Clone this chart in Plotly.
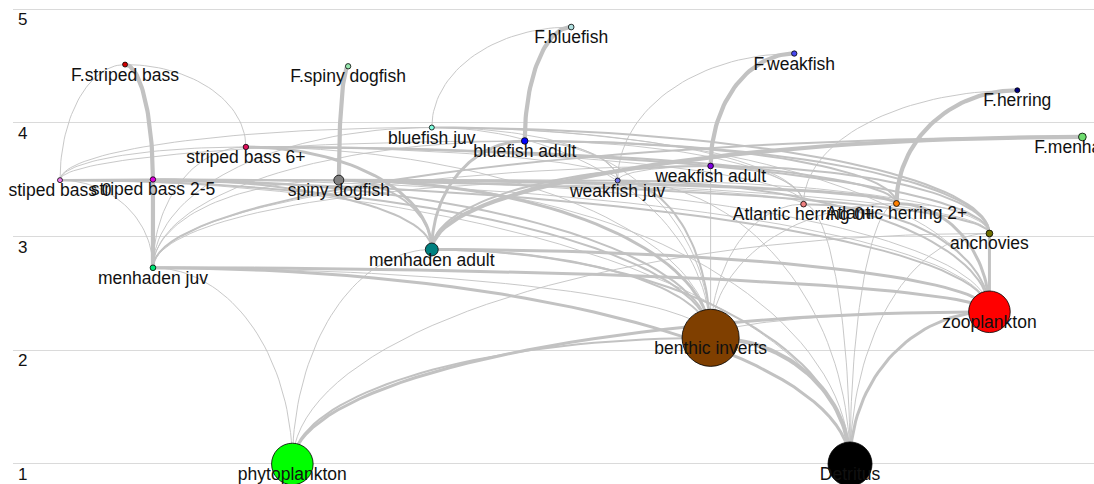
import numpy as np
import plotly.graph_objects as go

# ---------------- data ----------------
groups = [
    "phytoplankton", "Detritus",
    "menhaden juv", "menhaden adult", "benthic inverts", "zooplankton",
    "stiped bass 0", "striped bass 2-5", "striped bass 6+", "spiny dogfish",
    "bluefish juv", "bluefish adult", "weakfish juv", "weakfish adult",
    "Atlantic herring 0+", "Atlantic herring 2+", "anchovies", "F.menhaden",
    "F.striped bass", "F.spiny dogfish", "F.bluefish", "F.weakfish", "F.herring",
]
trophic_level = [
    1.00, 1.00,
    2.726, 2.887, 2.110, 2.339,
    3.497, 3.503, 3.789, 3.497,
    3.960, 3.842, 3.494, 3.622,
    3.286, 3.292, 3.028, 3.877,
    4.514, 4.499, 4.844, 4.611, 4.288,
]
biomass = [
    15.0, 17.0,
    0.03, 0.85, 30.0, 15.0,
    0.01, 0.02, 0.02, 0.38,
    0.01, 0.07, 0.01, 0.03,
    0.03, 0.04, 0.08, 0.15,
    0.01, 0.02, 0.03, 0.02, 0.01,
]

# predator-prey (and fleet-catch) links: prey, predator, flow class
link_prey = [
    "stiped bass 0", "striped bass 2-5", "striped bass 6+", "spiny dogfish",
    "bluefish juv", "bluefish adult", "weakfish juv", "weakfish adult",
    "Atlantic herring 0+", "Atlantic herring 2+", "menhaden adult", "menhaden juv",
    "phytoplankton", "zooplankton", "Detritus", "benthic inverts",
    "phytoplankton", "zooplankton", "Detritus", "benthic inverts",
    "phytoplankton", "Detritus",
    "phytoplankton", "Detritus", "zooplankton",
    "zooplankton", "phytoplankton", "Detritus",
    "zooplankton", "Detritus", "benthic inverts",
    "zooplankton", "benthic inverts", "Detritus", "anchovies",
    "zooplankton", "benthic inverts", "menhaden juv", "Detritus",
    "menhaden juv", "menhaden adult", "benthic inverts", "anchovies",
    "Atlantic herring 0+", "stiped bass 0", "zooplankton", "weakfish juv",
    "menhaden adult", "Atlantic herring 2+", "Atlantic herring 0+", "benthic inverts",
    "anchovies", "menhaden juv", "stiped bass 0", "weakfish juv",
    "menhaden adult", "Atlantic herring 2+", "benthic inverts", "anchovies",
    "menhaden juv", "weakfish juv", "Detritus", "zooplankton",
    "anchovies", "menhaden juv", "zooplankton", "Atlantic herring 0+",
    "benthic inverts", "stiped bass 0", "weakfish juv",
    "menhaden adult", "anchovies", "Atlantic herring 2+", "Atlantic herring 0+",
    "weakfish juv", "menhaden juv", "benthic inverts", "stiped bass 0",
    "zooplankton", "benthic inverts", "anchovies", "menhaden juv", "Detritus",
    "menhaden adult", "anchovies", "benthic inverts", "Atlantic herring 0+",
    "weakfish juv", "menhaden juv",
]
link_pred = [
    "F.striped bass", "F.striped bass", "F.striped bass", "F.spiny dogfish",
    "F.bluefish", "F.bluefish", "F.weakfish", "F.weakfish",
    "F.herring", "F.herring", "F.menhaden", "F.menhaden",
    "menhaden juv", "menhaden juv", "menhaden juv", "menhaden juv",
    "menhaden adult", "menhaden adult", "menhaden adult", "menhaden adult",
    "zooplankton", "zooplankton",
    "benthic inverts", "benthic inverts", "benthic inverts",
    "anchovies", "anchovies", "anchovies",
    "Atlantic herring 0+", "Atlantic herring 0+", "Atlantic herring 0+",
    "Atlantic herring 2+", "Atlantic herring 2+", "Atlantic herring 2+", "Atlantic herring 2+",
    "stiped bass 0", "stiped bass 0", "stiped bass 0", "stiped bass 0",
    "striped bass 2-5", "striped bass 2-5", "striped bass 2-5", "striped bass 2-5",
    "striped bass 2-5", "striped bass 2-5", "striped bass 2-5", "striped bass 2-5",
    "striped bass 6+", "striped bass 6+", "striped bass 6+", "striped bass 6+",
    "striped bass 6+", "striped bass 6+", "striped bass 6+", "striped bass 6+",
    "spiny dogfish", "spiny dogfish", "spiny dogfish", "spiny dogfish",
    "spiny dogfish", "spiny dogfish", "spiny dogfish", "spiny dogfish",
    "bluefish juv", "bluefish juv", "bluefish juv", "bluefish juv",
    "bluefish juv", "bluefish juv", "bluefish juv",
    "bluefish adult", "bluefish adult", "bluefish adult", "bluefish adult",
    "bluefish adult", "bluefish adult", "bluefish adult", "bluefish adult",
    "weakfish juv", "weakfish juv", "weakfish juv", "weakfish juv", "weakfish juv",
    "weakfish adult", "weakfish adult", "weakfish adult", "weakfish adult",
    "weakfish adult", "weakfish adult",
]
link_flow = [
    1, 4, 1, 4,
    1, 4, 1, 4,
    1, 4, 4, 2,
    1, 3, 3, 1,
    1, 3, 2, 2,
    3, 3,
    2, 4, 1,
    3, 1, 1,
    2, 1, 1,
    3, 1, 1, 1,
    2, 2, 1, 1,
    4, 2, 2, 2,
    1, 2, 1, 1,
    3, 2, 1, 1,
    2, 1, 1, 1,
    2, 3, 3, 1,
    1, 1, 1, 1,
    2, 1, 1, 1,
    1, 1, 1,
    3, 2, 2, 1,
    1, 1, 1, 1,
    2, 2, 1, 1, 1,
    2, 2, 1, 1,
    1, 1,
]

# ---------------- styles ----------------
node_colors = {
    "phytoplankton": "#00FF00", "Detritus": "#000000",
    "menhaden juv": "#00E676", "menhaden adult": "#008080",
    "benthic inverts": "#7F3F00", "zooplankton": "#FF0000",
    "stiped bass 0": "#F07EF0", "striped bass 2-5": "#E000E0",
    "striped bass 6+": "#E0105C", "spiny dogfish": "#808080",
    "bluefish juv": "#7FFFE0", "bluefish adult": "#0000FF",
    "weakfish juv": "#7070E8", "weakfish adult": "#8000E0",
    "Atlantic herring 0+": "#F08080", "Atlantic herring 2+": "#FF8000",
    "anchovies": "#707000", "F.menhaden": "#6EDC6E",
    "F.striped bass": "#D00000", "F.spiny dogfish": "#98E8B0",
    "F.bluefish": "#B0E0E0", "F.weakfish": "#4848F0", "F.herring": "#000080",
}
edge_color = "#C2C2C2"
flow_width = {1: 0.9, 2: 2.0, 3: 3.0, 4: 4.2}
font_family = "Liberation Sans, Arial, sans-serif"

# ---------------- layout of nodes (bins by integer trophic level) ----------------
tl = np.array(trophic_level)
bins = np.floor(tl + 1e-9).astype(int)
xpos = np.zeros(len(groups))
for b in np.unique(bins):
    idx = np.where(bins == b)[0]
    n = len(idx)
    for i, k in enumerate(idx):
        xpos[k] = 5.5 + (i - (n - 1) / 2) * 12.0 / n
pos = {g: (xpos[k], tl[k]) for k, g in enumerate(groups)}

fig = go.Figure()

# edges: quarter-ellipse, vertical at the lower node, horizontal at the upper one
t = np.linspace(0, np.pi / 2, 40)
for w in sorted(flow_width):
    xs, ys = [], []
    for p, q, f in zip(link_prey, link_pred, link_flow):
        if f != w:
            continue
        (x1, y1), (x2, y2) = pos[p], pos[q]
        if y1 > y2:
            (x1, y1), (x2, y2) = (x2, y2), (x1, y1)
        xs += list(x1 + (x2 - x1) * (1 - np.cos(t))) + [None]
        ys += list(y1 + (y2 - y1) * np.sin(t)) + [None]
    fig.add_trace(go.Scatter(x=xs, y=ys, mode="lines",
                             line=dict(color=edge_color, width=flow_width[w]),
                             hoverinfo="skip", showlegend=False))

sizes = 4 + 9.7 * np.sqrt(np.array(biomass))
fig.add_trace(go.Scatter(
    x=xpos, y=tl, mode="markers",
    marker=dict(size=sizes, color=[node_colors[g] for g in groups],
                line=dict(color="#000000", width=0.8), opacity=1),
    text=groups, hoverinfo="text", showlegend=False))

# labels: constant offset below each node (invisible marker sets the offset)
fig.add_trace(go.Scatter(
    x=xpos, y=tl, mode="markers+text", text=groups, textposition="bottom center",
    marker=dict(size=3, color="rgba(0,0,0,0)"),
    textfont=dict(size=17.5, color="#111111", family=font_family),
    cliponaxis=False, hoverinfo="skip", showlegend=False))

fig.update_layout(
    width=1094, height=484,
    margin=dict(l=13, r=0, t=0, b=0),
    paper_bgcolor="white", plot_bgcolor="white",
    font=dict(family=font_family, size=17, color="#111111"),
    xaxis=dict(range=[-0.5057, 11.125], visible=False),
    yaxis=dict(range=[0.824, 5.082], tickvals=[1, 2, 3, 4, 5],
               ticklabelposition="inside", ticklabelshift=10, ticklabelstandoff=2,
               showgrid=True, gridcolor="#DADADA", gridwidth=1,
               zeroline=False, showline=False, ticks="",
               tickfont=dict(size=17, color="#111111")),
)

fig.write_html("out.html",
               config={"displayModeBar": False},
               post_script="document.body.style.margin='0';"
                           "document.body.style.overflow='hidden';")
